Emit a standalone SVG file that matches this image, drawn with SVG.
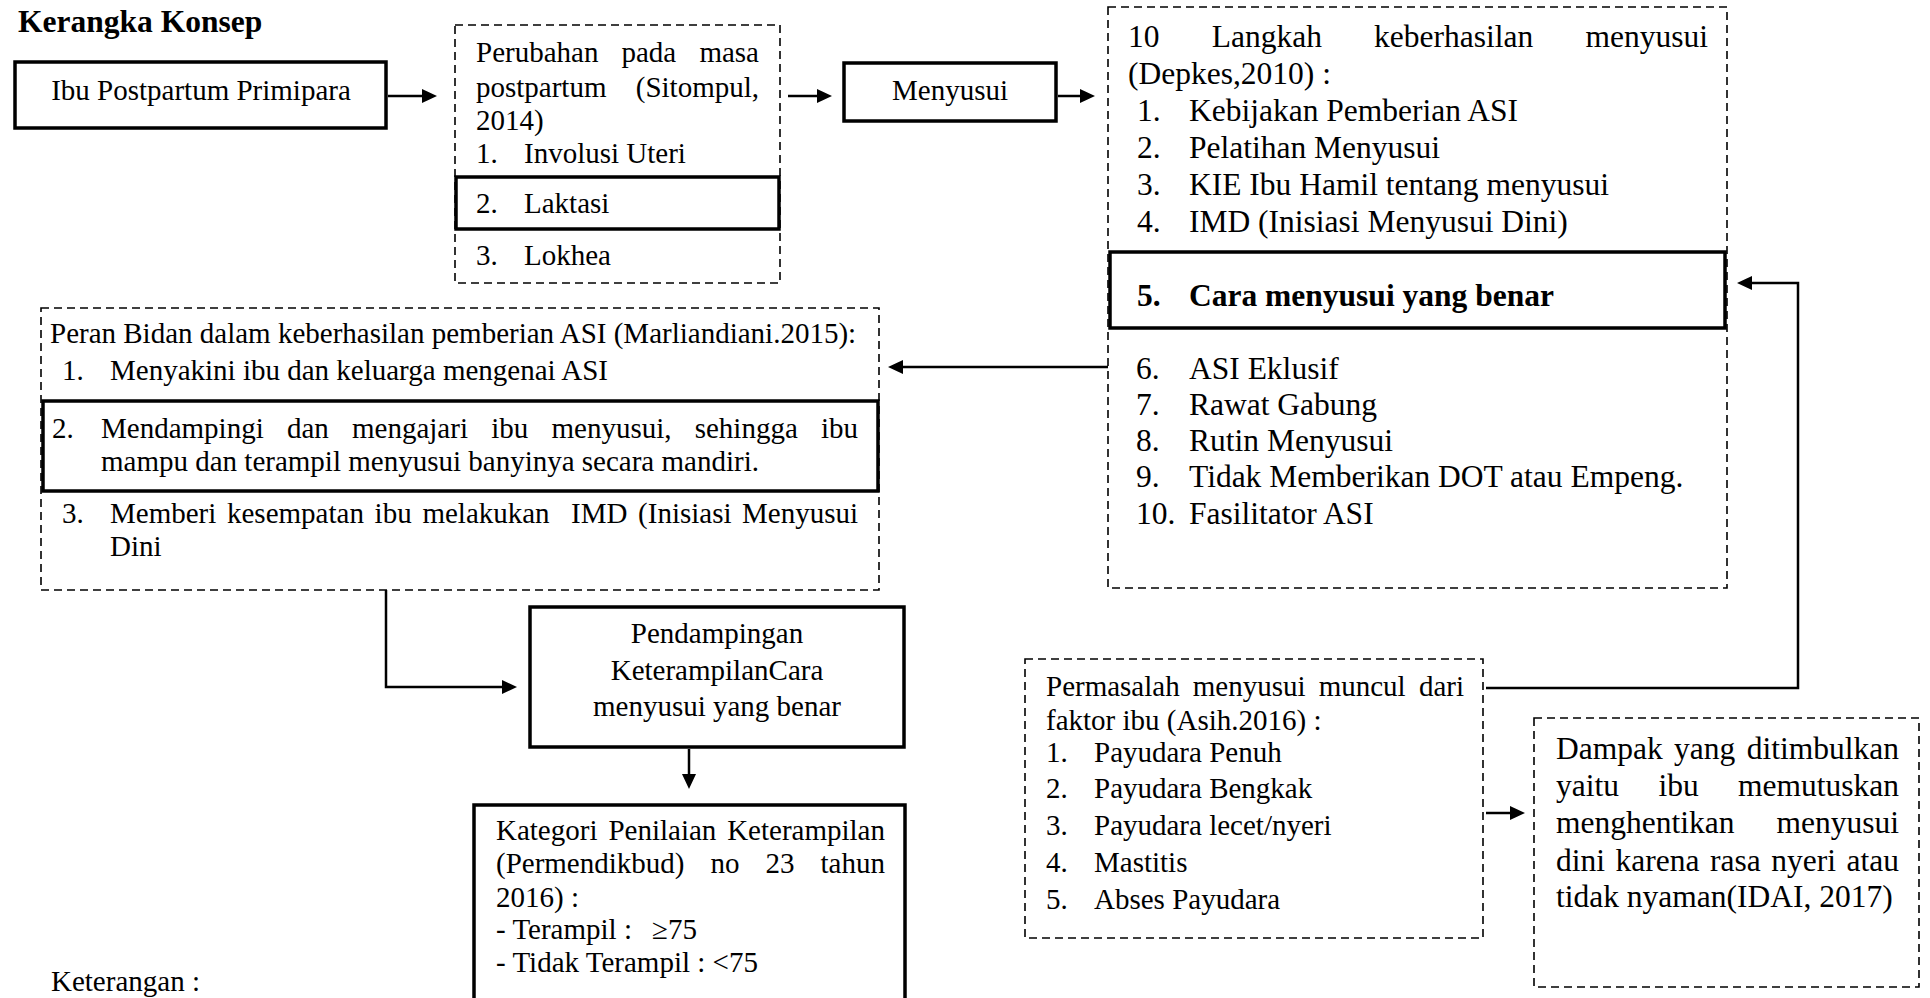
<svg xmlns="http://www.w3.org/2000/svg" width="1930" height="998" viewBox="0 0 1930 998">
<style>
text { font-family: "Liberation Serif", "Times New Roman", serif; fill: #000; }
.s { font-size: 29px; }
.l { font-size: 31.5px; }
.b { font-weight: bold; }
.m { text-anchor: middle; }
.e { text-anchor: end; }
.solid { fill: #fff; stroke: #000; stroke-width: 3.5; }
.dash { fill: none; stroke: #000; stroke-width: 1.6; stroke-dasharray: 8 5; }
.conn { fill: none; stroke: #000; stroke-width: 2.5; }
</style>
<defs>
<marker id="ah" markerWidth="15" markerHeight="14" refX="3" refY="7" orient="auto" markerUnits="userSpaceOnUse">
<path d="M0,0 L15,7 L0,14 z" fill="#000"/>
</marker>
</defs>
<rect width="1930" height="998" fill="#fff"/>

<text id="title" x="18" y="32" class="l b">Kerangka Konsep</text>

<g id="ibu">
<rect class="solid" x="15" y="62" width="371" height="66"/>
<text class="s m" x="201" y="100">Ibu Postpartum Primipara</text>
</g>

<g id="perubahan">
<rect class="dash" x="455" y="25" width="325" height="258"/>
<rect class="solid" x="456" y="177" width="323" height="52"/>
<text class="s" y="62"><tspan x="476">Perubahan</tspan><tspan x="621.5">pada</tspan><tspan x="759" class="e">masa</tspan></text>
<text class="s" y="97"><tspan x="476">postpartum</tspan><tspan x="759" class="e">(Sitompul,</tspan></text>
<text class="s" x="476" y="130">2014)</text>
<text class="s" y="163"><tspan x="476">1.</tspan><tspan x="524">Involusi Uteri</tspan></text>
<text class="s" y="213"><tspan x="476">2.</tspan><tspan x="524">Laktasi</tspan></text>
<text class="s" y="265"><tspan x="476">3.</tspan><tspan x="524">Lokhea</tspan></text>
</g>

<g id="menyusui">
<rect class="solid" x="844" y="63" width="212" height="58"/>
<text class="s m" x="950" y="100">Menyusui</text>
</g>

<g id="langkah">
<rect class="dash" x="1108" y="7" width="619" height="581"/>
<rect class="solid" x="1110" y="252" width="615" height="76"/>
<text class="l" y="47"><tspan x="1128">10</tspan><tspan x="1211.7">Langkah</tspan><tspan x="1374.1">keberhasilan</tspan><tspan x="1708" class="e">menyusui</tspan></text>
<text class="l" x="1128" y="84">(Depkes,2010) :</text>
<text class="l" y="121"><tspan x="1137">1.</tspan><tspan x="1189">Kebijakan Pemberian ASI</tspan></text>
<text class="l" y="158"><tspan x="1137">2.</tspan><tspan x="1189">Pelatihan Menyusui</tspan></text>
<text class="l" y="195"><tspan x="1137">3.</tspan><tspan x="1189">KIE Ibu Hamil tentang menyusui</tspan></text>
<text class="l" y="232"><tspan x="1137">4.</tspan><tspan x="1189">IMD (Inisiasi Menyusui Dini)</tspan></text>
<text class="l b" y="306"><tspan x="1137">5.</tspan><tspan x="1189">Cara menyusui yang benar</tspan></text>
<text class="l" y="379"><tspan x="1136">6.</tspan><tspan x="1189">ASI Eklusif</tspan></text>
<text class="l" y="415"><tspan x="1136">7.</tspan><tspan x="1189">Rawat Gabung</tspan></text>
<text class="l" y="451"><tspan x="1136">8.</tspan><tspan x="1189">Rutin Menyusui</tspan></text>
<text class="l" y="487"><tspan x="1136">9.</tspan><tspan x="1189">Tidak Memberikan DOT atau Empeng.</tspan></text>
<text class="l" y="524"><tspan x="1136">10.</tspan><tspan x="1189">Fasilitator ASI</tspan></text>
</g>

<g id="peran">
<rect class="dash" x="41" y="308" width="838" height="282"/>
<rect class="solid" x="43" y="401" width="835" height="90"/>
<text class="s" x="50" y="343">Peran Bidan dalam keberhasilan pemberian ASI (Marliandiani.2015):</text>
<text class="s" y="380"><tspan x="62">1.</tspan><tspan x="110">Menyakini ibu dan keluarga mengenai ASI</tspan></text>
<text class="s" y="438"><tspan x="52">2.</tspan><tspan x="101">Mendampingi</tspan><tspan x="286.9">dan</tspan><tspan x="352">mengajari</tspan><tspan x="491.2">ibu</tspan><tspan x="551.5">menyusui,</tspan><tspan x="694.7">sehingga</tspan><tspan x="858" class="e">ibu</tspan></text>
<text class="s" x="101" y="471">mampu dan terampil menyusui banyinya secara mandiri.</text>
<text class="s" y="523"><tspan x="62">3.</tspan><tspan x="110">Memberi</tspan><tspan x="227">kesempatan</tspan><tspan x="374.6">ibu</tspan><tspan x="422.4">melakukan</tspan><tspan x="571">IMD</tspan><tspan x="638.1">(Inisiasi</tspan><tspan x="858" class="e">Menyusui</tspan></text>
<text class="s" x="110" y="556">Dini</text>
</g>

<g id="pendampingan">
<rect class="solid" x="530" y="607" width="374" height="140"/>
<text class="s m" x="717" y="643">Pendampingan</text>
<text class="s m" x="717" y="680">KeterampilanCara</text>
<text class="s m" x="717" y="716">menyusui yang benar</text>
</g>

<g id="kategori">
<rect class="solid" x="474" y="805" width="431" height="210"/>
<text class="s" y="840"><tspan x="496">Kategori</tspan><tspan x="608.4">Penilaian</tspan><tspan x="885" class="e">Keterampilan</tspan></text>
<text class="s" y="873"><tspan x="496">(Permendikbud)</tspan><tspan x="710.5">no</tspan><tspan x="765.5">23</tspan><tspan x="885" class="e">tahun</tspan></text>
<text class="s" x="496" y="907">2016) :</text>
<text class="s" y="939"><tspan x="496">- Terampil :</tspan><tspan x="652">≥75</tspan></text>
<text class="s" x="496" y="972">- Tidak Terampil : &lt;75</text>
</g>

<g id="permasalah">
<rect class="dash" x="1025" y="659" width="458" height="279"/>
<text class="s" y="696"><tspan x="1046">Permasalah</tspan><tspan x="1192.8">menyusui</tspan><tspan x="1318.7">muncul</tspan><tspan x="1464" class="e">dari</tspan></text>
<text class="s" x="1046" y="730">faktor ibu (Asih.2016) :</text>
<text class="s" y="762"><tspan x="1046">1.</tspan><tspan x="1094">Payudara Penuh</tspan></text>
<text class="s" y="798"><tspan x="1046">2.</tspan><tspan x="1094">Payudara Bengkak</tspan></text>
<text class="s" y="835"><tspan x="1046">3.</tspan><tspan x="1094">Payudara lecet/nyeri</tspan></text>
<text class="s" y="872"><tspan x="1046">4.</tspan><tspan x="1094">Mastitis</tspan></text>
<text class="s" y="909"><tspan x="1046">5.</tspan><tspan x="1094">Abses Payudara</tspan></text>
</g>

<g id="dampak">
<rect class="dash" x="1534" y="718" width="385" height="269"/>
<text class="l" y="759"><tspan x="1556">Dampak</tspan><tspan x="1674.1">yang</tspan><tspan x="1899" class="e">ditimbulkan</tspan></text>
<text class="l" y="796"><tspan x="1556">yaitu</tspan><tspan x="1658.4">ibu</tspan><tspan x="1899" class="e">memutuskan</tspan></text>
<text class="l" y="833"><tspan x="1556">menghentikan</tspan><tspan x="1899" class="e">menyusui</tspan></text>
<text class="l" y="871"><tspan x="1556">dini</tspan><tspan x="1615.6">karena</tspan><tspan x="1710">rasa</tspan><tspan x="1771.3">nyeri</tspan><tspan x="1899" class="e">atau</tspan></text>
<text class="l" x="1556" y="907">tidak nyaman(IDAI, 2017)</text>
</g>

<text id="keterangan" class="s" x="51" y="991">Keterangan :</text>

<g id="connectors">
<path class="conn" d="M388,96 L425,96" marker-end="url(#ah)"/>
<path class="conn" d="M788,96 L820,96" marker-end="url(#ah)"/>
<path class="conn" d="M1058,96 L1083,96" marker-end="url(#ah)"/>
<path class="conn" d="M1108,367 L900,367" marker-end="url(#ah)"/>
<path class="conn" d="M386,590 L386,687 L505,687" marker-end="url(#ah)"/>
<path class="conn" d="M689,749 L689,777" marker-end="url(#ah)"/>
<path class="conn" d="M1486,688 L1798,688 L1798,283 L1749,283" marker-end="url(#ah)"/>
<path class="conn" d="M1486,813 L1513,813" marker-end="url(#ah)"/>
</g>
</svg>
